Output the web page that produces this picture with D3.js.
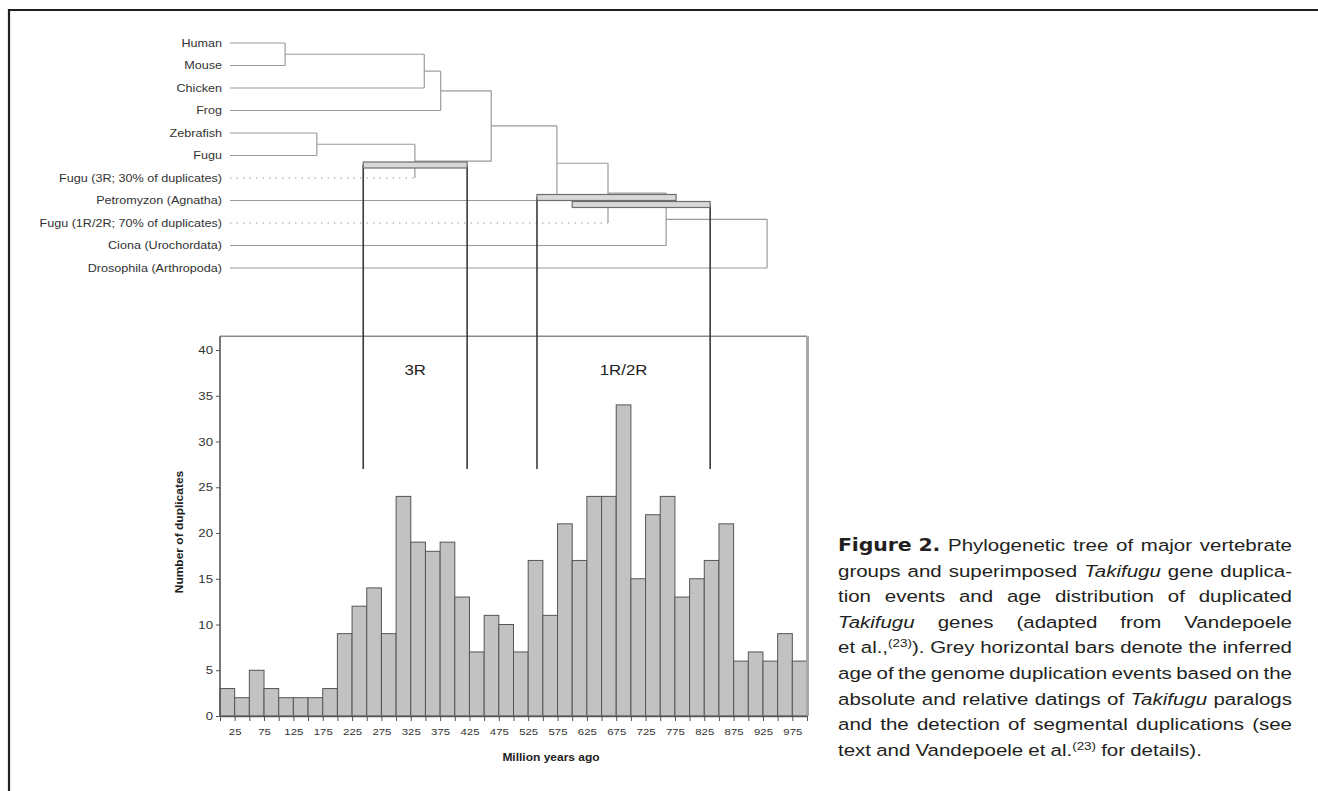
<!DOCTYPE html>
<html>
<head>
<meta charset="utf-8">
<script src="https://cdn.jsdelivr.net/npm/d3@7"></script>
<style>
  body { margin: 0; background: #fff; }
  svg { display: block; font-family: "Liberation Sans", Arial, sans-serif; }
</style>
</head>
<body>
<svg id="fig" width="1318" height="791"></svg>
<script>
// ===== DATA =====
// age bins of 25 My (start of each bin)
const binStarts = [0, 25, 50, 75, 100, 125, 150, 175, 200, 225, 250, 275, 300, 325, 350, 375,
  400, 425, 450, 475, 500, 525, 550, 575, 600, 625, 650, 675, 700, 725, 750, 775,
  800, 825, 850, 875, 900, 925, 950, 975];
const duplicates = [3, 2, 5, 3, 2, 2, 2, 3, 9, 12, 14, 9, 24, 19, 18, 19,
  13, 7, 11, 10, 7, 17, 11, 21, 17, 24, 24, 34, 15, 22, 24, 13,
  15, 17, 21, 6, 7, 6, 9, 6];
const xLabels = [25, 75, 125, 175, 225, 275, 325, 375, 425, 475, 525, 575, 625, 675, 725, 775, 825, 875, 925, 975];
const yTicks = [0, 5, 10, 15, 20, 25, 30, 35, 40];

const leaves = ["Human", "Mouse", "Chicken", "Frog", "Zebrafish", "Fugu",
  "Fugu (3R; 30% of duplicates)", "Petromyzon (Agnatha)", "Fugu (1R/2R; 70% of duplicates)",
  "Ciona (Urochordata)", "Drosophila (Arthropoda)"];
const dashedLeaves = ["Fugu (3R; 30% of duplicates)", "Fugu (1R/2R; 70% of duplicates)"];

// node ages (My)
const tree = { age: 932, children: [
  { age: 760, children: [
    { age: 661, children: [
      { age: 574, children: [
        { age: 462, children: [
          { age: 376, children: [
            { age: 348, children: [
              { age: 111, children: [{ name: "Human" }, { name: "Mouse" }] },
              { name: "Chicken" }] },
            { name: "Frog" }] },
          { age: 332, children: [
            { age: 165, children: [{ name: "Zebrafish" }, { name: "Fugu" }] },
            { name: "Fugu (3R; 30% of duplicates)" }] }] },
        { name: "Petromyzon (Agnatha)" }] },
      { name: "Fugu (1R/2R; 70% of duplicates)" }] },
    { name: "Ciona (Urochordata)" }] },
  { name: "Drosophila (Arthropoda)" }] };

// inferred ages of duplication events
const events = [
  { name: "3R", from: 244, to: 421 },
  { name: "1R", from: 540, to: 777 },
  { name: "2R", from: 600, to: 835 }
];
const eventLabels = [
  { text: "3R", from: 244, to: 421 },
  { text: "1R/2R", from: 540, to: 835 }
];
const connectorLevel = 27;

const captionLines = [
  "**Figure\u00a02.** Phylogenetic tree of major vertebrate",
  "groups and superimposed *Takifugu* gene duplica-",
  "tion events and age distribution of duplicated",
  "*Takifugu* genes (adapted from Vandepoele",
  "et al.,^(23)^). Grey horizontal bars denote the inferred",
  "age of the genome duplication events based on the",
  "absolute and relative datings of *Takifugu* paralogs",
  "and the detection of segmental duplications (see",
  "text and Vandepoele et al.^(23)^ for details)."
];

// ===== SETUP =====
const svg = d3.select("#fig");
const SX = 1.2; // the figure's lettering is a bit wide

const x = d3.scaleLinear().domain([0, 1000]).range([220, 807]);
const y = d3.scaleLinear().domain([0, 40]).range([716, 350]);
const yTop = y(41.5);

// stretched text placed at (px, py)
function wideText(parent, px, py) {
  return parent.append("text").attr("transform", `translate(${px},${py}) scale(${SX},1)`);
}

// page frame
svg.append("line").attr("x1", 8).attr("x2", 1318).attr("y1", 10).attr("y2", 10)
  .attr("stroke", "#231f20").attr("stroke-width", 2.2);
svg.append("line").attr("x1", 9).attr("x2", 9).attr("y1", 9).attr("y2", 791)
  .attr("stroke", "#231f20").attr("stroke-width", 2.2);

// ===== HISTOGRAM =====
function drawHistogram() {
  const g = svg.append("g");

  g.selectAll("rect.bin")
    .data(duplicates)
    .enter()
    .append("rect")
    .attr("class", "bin")
    .attr("x", (d, i) => x(binStarts[i]))
    .attr("width", (d, i) => x(binStarts[i] + 25) - x(binStarts[i]))
    .attr("y", d => y(d))
    .attr("height", d => y(0) - y(d))
    .attr("fill", "#c2c2c2")
    .attr("stroke", "#555")
    .attr("stroke-width", 1);

  // plot frame (top + right)
  g.append("line").attr("x1", x(0)).attr("x2", x(1000)).attr("y1", yTop).attr("y2", yTop)
    .attr("stroke", "#8a8a8a").attr("stroke-width", 1.6);
  g.append("line").attr("x1", x(1000) + 0.5).attr("x2", x(1000) + 0.5).attr("y1", yTop).attr("y2", y(0))
    .attr("stroke", "#a8a8a8").attr("stroke-width", 3);

  const edges = binStarts.concat([1000]);
  const xAxis = d3.axisBottom(x)
    .tickValues(edges)
    .tickFormat(d => xLabels.includes(d) ? d : "")
    .tickSizeInner(5).tickSizeOuter(0).tickPadding(7);
  const gx = g.append("g").attr("transform", `translate(0,${y(0)})`).call(xAxis);

  const yAxis = d3.axisLeft(y).tickValues(yTicks).tickSizeInner(4).tickSizeOuter(0).tickPadding(3);
  const gy = g.append("g").attr("transform", `translate(${x(0)},0)`).call(yAxis);
  gy.select(".domain").attr("d", `M0,${yTop}V${y(0)}`);

  [gx, gy].forEach(a => {
    a.select(".domain").attr("stroke", "#555").attr("stroke-width", 1.6);
    a.selectAll(".tick line").attr("stroke", "#555");
    a.selectAll("text").attr("fill", "#333").attr("font-family", "Liberation Sans, Arial, sans-serif");
  });
  gx.selectAll("text").attr("font-size", 9.5).attr("transform", `scale(${SX},1)`);
  gy.selectAll("text").attr("font-size", 11).attr("x", -7 / SX).attr("transform", `scale(${SX},1)`);

  wideText(svg, 183, 532)
    .attr("transform", `translate(183,532) rotate(-90) scale(${SX},1)`)
    .attr("text-anchor", "middle")
    .attr("font-size", 10).attr("font-weight", "bold").attr("fill", "#222")
    .text("Number of duplicates");

  wideText(svg, 551, 761)
    .attr("text-anchor", "middle")
    .attr("font-size", 10).attr("font-weight", "bold").attr("fill", "#222")
    .text("Million years ago");
}

// ===== TREE =====
function drawTree() {
  const g = svg.append("g");
  const rowY = d3.scalePoint().domain(leaves).range([43, 268]);
  const tipX = 230;

  const root = d3.hierarchy(tree);
  root.eachAfter(n => {
    if (!n.children) {
      n.py = rowY(n.data.name);
      n.px = tipX;
    } else {
      n.py = (n.children[0].py + n.children[n.children.length - 1].py) / 2;
      n.px = x(n.data.age);
    }
  });

  const stroke = "#9a9a9a";
  root.descendants().forEach(n => {
    if (n.children) {
      g.append("line")
        .attr("x1", n.px).attr("x2", n.px)
        .attr("y1", n.children[0].py).attr("y2", n.children[n.children.length - 1].py)
        .attr("stroke", stroke).attr("stroke-width", 1.2);
    }
    if (n.parent) {
      const dashed = !n.children && dashedLeaves.includes(n.data.name);
      g.append("line")
        .attr("x1", n.px).attr("x2", n.parent.px)
        .attr("y1", n.py).attr("y2", n.py)
        .attr("stroke", stroke).attr("stroke-width", 1.2)
        .attr("stroke-dasharray", dashed ? "1.5,5" : null);
    }
  });

  root.leaves().forEach(d => {
    wideText(g, 222, d.py + 3.7)
      .attr("text-anchor", "end")
      .attr("font-size", 10.5)
      .attr("fill", "#333")
      .text(d.data.name);
  });

  // duplication event bars
  const barY = { "3R": 165, "1R": 197.5, "2R": 204.5 };
  const barH = 6;

  // connectors down into the histogram
  const conn = [
    { age: events[0].from, top: barY["3R"] },
    { age: events[0].to, top: barY["3R"] },
    { age: events[1].from, top: barY["1R"] },
    { age: events[2].to, top: barY["2R"] }
  ];
  g.selectAll("line.conn")
    .data(conn)
    .enter()
    .append("line")
    .attr("class", "conn")
    .attr("x1", d => x(d.age)).attr("x2", d => x(d.age))
    .attr("y1", d => d.top).attr("y2", y(connectorLevel))
    .attr("stroke", "#3a3a3a").attr("stroke-width", 1.6);

  g.selectAll("rect.event")
    .data(events)
    .enter()
    .append("rect")
    .attr("class", "event")
    .attr("x", d => x(d.from))
    .attr("width", d => x(d.to) - x(d.from))
    .attr("y", d => barY[d.name] - barH / 2)
    .attr("height", barH)
    .attr("fill", "#d8d8d8")
    .attr("stroke", "#6e6e6e")
    .attr("stroke-width", 1.2);

  eventLabels.forEach(d => {
    wideText(svg, x((d.from + d.to) / 2), y(37.8) + 5)
      .attr("text-anchor", "middle")
      .attr("font-size", 14)
      .attr("fill", "#222")
      .text(d.text);
  });
}

// ===== CAPTION =====
function parseWords(line) {
  const words = [];
  let cur = [];
  let run = null;
  const st = { b: false, i: false, s: false };
  const push = ch => {
    if (!run || run.b !== st.b || run.i !== st.i || run.s !== st.s) {
      run = { t: "", b: st.b, i: st.i, s: st.s };
      cur.push(run);
    }
    run.t += ch;
  };
  for (let k = 0; k < line.length; k++) {
    const ch = line[k];
    if (ch === "*" && line[k + 1] === "*") { st.b = !st.b; k++; continue; }
    if (ch === "*") { st.i = !st.i; continue; }
    if (ch === "^") { st.s = !st.s; continue; }
    if (ch === " ") {
      if (cur.length) words.push(cur);
      cur = []; run = null;
      continue;
    }
    push(ch);
  }
  if (cur.length) words.push(cur);
  return words;
}

function drawCaption() {
  const g = svg.append("g");
  const left = 838, right = 1292, top = 551, lh = 25.6, fs = 16.8;
  const sx = 1.22;
  const W = right - left;

  captionLines.forEach((line, li) => {
    const words = parseWords(line);
    const els = words.map(runs => {
      const t = g.append("text").attr("font-size", fs).attr("fill", "#231f20");
      let shift = 0;
      runs.forEach(r => {
        const ts = t.append("tspan").text(r.t);
        if (r.b) ts.attr("font-family", "DejaVu Sans, sans-serif").attr("font-weight", "bold").attr("letter-spacing", -0.1);
        if (r.i) ts.attr("font-style", "italic");
        const want = r.s ? -6 : 0;
        if (want !== shift) { ts.attr("dy", want - shift); shift = want; }
        if (r.s) ts.attr("font-size", 11);
      });
      return t;
    });
    const widths = els.map(e => e.node().getComputedTextLength() * sx);
    const total = d3.sum(widths);
    const last = li === captionLines.length - 1;
    const gap = last || els.length < 2 ? fs * 0.25 * sx : Math.max(2.5, (W - total) / (els.length - 1));
    let cx = left;
    els.forEach((e, k) => {
      e.attr("transform", `translate(${cx},${top + li * lh}) scale(${sx},1)`);
      cx += widths[k] + gap;
    });
  });
}

drawHistogram();
drawTree();
drawCaption();
</script>
</body>
</html>
